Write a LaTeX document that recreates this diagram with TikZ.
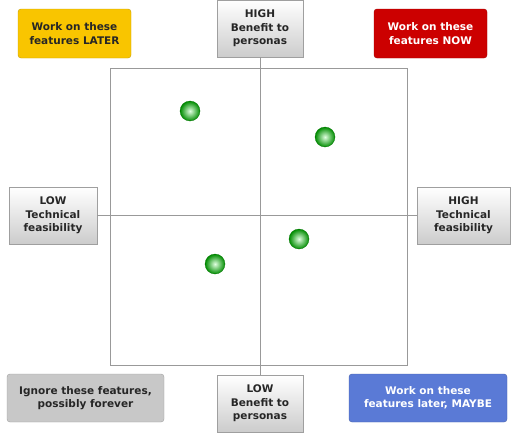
\documentclass[tikz,border=0pt]{standalone}
\usepackage{fontspec}
\setmainfont{DejaVu Sans}
\begin{document}
\begin{tikzpicture}[x=1pt,y=-1pt,
  lbl/.style={font=\bfseries\fontsize{10.5}{13.5}\selectfont, align=center, inner sep=0pt},
  axisbox/.style={lbl, draw=gray!75, top color=white, bottom color=gray!40, text=black!85},
  catbox/.style={lbl, rounded corners=3pt, draw=#1!80!black, fill=#1},
  dot/.style={circle, minimum size=20pt, inner sep=0pt, inner color=green!12!white, outer color=green!55!black, draw=green!45!black, line width=0.3pt}
]
\definecolor{cyellow}{HTML}{F9C500}
\definecolor{cred}{HTML}{CC0000}
\definecolor{cblue}{HTML}{5A7AD6}
\definecolor{cgrey}{HTML}{C8C8C8}
\useasboundingbox (0,0) rectangle (512,434);
% frame
\draw[gray!80, line width=0.8pt] (110,68) rectangle (407,365);
% axis boxes
\node[axisbox, minimum width=86pt, minimum height=57pt] (top) at (260,28.5) {HIGH\\Benefit to\\personas};
\node[axisbox, minimum width=86pt, minimum height=57pt] (bot) at (260,403.5) {LOW\\Benefit to\\personas};
\node[axisbox, minimum width=88pt, minimum height=57pt] (left) at (53,215.5) {LOW\\Technical\\feasibility};
\node[axisbox, minimum width=93pt, minimum height=57pt] (right) at (463.5,215.5) {HIGH\\Technical\\feasibility};
% axes
\draw[gray!80, line width=0.8pt] (top.south) -- (bot.north);
\draw[gray!80, line width=0.8pt] (left.east) -- (right.west);
% category boxes
\node[catbox=cyellow, text=black!85, minimum width=113pt, minimum height=49pt] (later) at (74.5,33.5) {Work on these\\features LATER};
\node[catbox=cred, text=white, minimum width=113pt, minimum height=49pt] (now) at (430.5,33.5) {Work on these\\features NOW};
\node[catbox=cgrey, text=black!85, minimum width=157pt, minimum height=48pt] (ignore) at (85.5,398) {Ignore these features,\\possibly forever};
\node[catbox=cblue, text=white, minimum width=158pt, minimum height=48pt] (maybe) at (428,398) {Work on these\\features later, MAYBE};
% dots
\node[dot] (d1) at (190,111) {};
\node[dot] (d2) at (325,137) {};
\node[dot] (d3) at (299,239) {};
\node[dot] (d4) at (215,264) {};
\end{tikzpicture}
\end{document}
